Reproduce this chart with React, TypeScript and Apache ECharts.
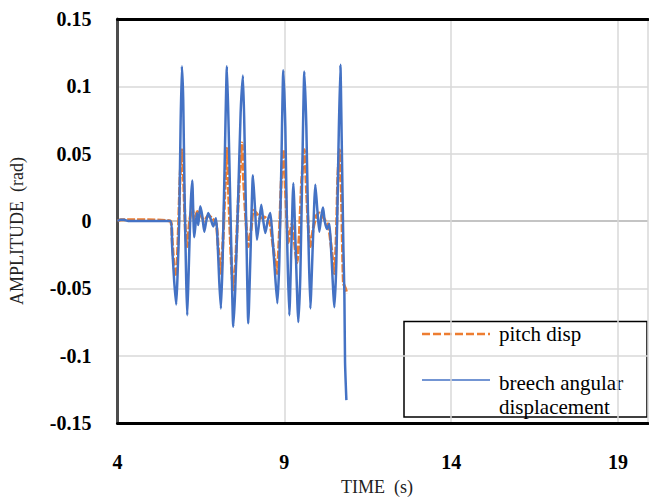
import React, { useEffect, useRef } from "react";
import * as echarts from "echarts";

const blueTime = [4.00, 4.08, 4.20, 4.32, 5.58, 5.64, 5.70, 5.76, 5.80, 5.85, 5.89, 5.93, 5.97, 6.01, 6.06, 6.09, 6.13, 6.19, 6.24, 6.30, 6.38, 6.42, 6.48, 6.54, 6.60, 6.66, 6.72, 6.80, 6.87, 6.95, 6.99, 7.05, 7.10, 7.15, 7.21, 7.28, 7.33, 7.41, 7.47, 7.53, 7.62, 7.69, 7.76, 7.81, 7.87, 7.92, 7.98, 8.06, 8.12, 8.18, 8.25, 8.31, 8.37, 8.43, 8.50, 8.58, 8.64, 8.71, 8.79, 8.85, 8.91, 8.97, 9.03, 9.09, 9.15, 9.21, 9.27, 9.34, 9.42, 9.48, 9.54, 9.60, 9.66, 9.72, 9.78, 9.85, 9.93, 9.99, 10.05, 10.11, 10.16, 10.21, 10.28, 10.35, 10.41, 10.50, 10.56, 10.62, 10.68, 10.72, 10.77, 10.80, 10.82, 10.86];
const blueValue = [0, 0.001, 0.001, 0, 0, -0.02, -0.045, -0.062, -0.04, 0.0, 0.07, 0.115, 0.09, 0.02, -0.045, -0.07, -0.04, 0.01, 0.030, -0.012, 0.006, -0.003, 0.011, 0.004, -0.008, 0.0, 0.006, 0.001, -0.004, 0.002, -0.01, -0.045, -0.065, -0.03, 0.04, 0.115, 0.07, -0.02, -0.0785, -0.05, 0.02, 0.08, 0.108, 0.06, -0.02, -0.076, -0.03, 0.034, 0.01, -0.014, 0.0, 0.012, 0.0, -0.009, 0.0, 0.006, -0.01, -0.035, -0.061, -0.03, 0.04, 0.112, 0.07, -0.02, -0.07, -0.02, 0.028, -0.02, -0.075, -0.04, 0.04, 0.111, 0.07, -0.01, -0.065, -0.02, 0.027, 0.008, -0.008, 0.004, 0.010, 0.0, -0.006, -0.002, -0.025, -0.064, -0.03, 0.05, 0.116, 0.06, -0.02, -0.054, -0.105, -0.133];

const orangeTime = [4.00, 4.11, 5.58, 5.64, 5.70, 5.76, 5.82, 5.88, 5.93, 5.98, 6.04, 6.09, 6.16, 6.24, 6.31, 6.39, 6.48, 6.60, 6.72, 6.84, 6.96, 7.02, 7.10, 7.17, 7.23, 7.28, 7.33, 7.41, 7.47, 7.54, 7.63, 7.73, 7.78, 7.86, 7.92, 8.01, 8.07, 8.16, 8.28, 8.40, 8.52, 8.58, 8.67, 8.78, 8.85, 8.91, 8.97, 9.04, 9.12, 9.23, 9.30, 9.38, 9.45, 9.52, 9.60, 9.67, 9.73, 9.78, 9.87, 9.96, 10.05, 10.14, 10.23, 10.32, 10.41, 10.50, 10.56, 10.60, 10.65, 10.71, 10.77, 10.83, 10.88];
const orangeValue = [0, 0.001, 0, -0.015, -0.035, -0.041, -0.01, 0.035, 0.053, 0.03, -0.01, -0.019, 0.0, 0.01, 0.0, 0.007, 0.005, 0.0, 0.004, 0.002, -0.002, -0.02, -0.039, -0.01, 0.03, 0.054, 0.02, -0.03, -0.051, -0.03, 0.02, 0.058, 0.03, -0.005, -0.019, -0.005, 0.008, 0.006, 0.002, 0.003, 0.0, -0.003, -0.02, -0.039, -0.01, 0.03, 0.053, 0.02, -0.016, -0.002, -0.015, -0.031, -0.01, 0.03, 0.053, 0.02, -0.01, -0.019, -0.005, 0.004, 0.006, 0.004, 0.0, -0.003, -0.02, -0.039, -0.01, 0.03, 0.053, 0.02, -0.046, -0.05, -0.054];

const seriesNames = ["pitch disp", "breech angular\ndisplacement"];
const xAxisTitle = "TIME  (s)";
const yAxisTitle = "AMPLITUDE  (rad)";

const SERIF = '"Liberation Serif", "Times New Roman", serif';

export default function App() {
  const ref = useRef<HTMLDivElement>(null);
  useEffect(() => {
    if (!ref.current) return;
    const chart = echarts.init(ref.current, null, { renderer: "svg" });
    const pairs = (t: number[], v: number[]) => t.map((x, i) => [x, v[i]]);
    const grey = "#d9d9d9";
    chart.setOption({
      animation: false,
      backgroundColor: "#ffffff",
      grid: { left: 117.5, top: 19, width: 530.5, height: 404 },
      xAxis: [
        {
          type: "value",
          min: 4,
          max: 19.9,
          interval: 5,
          position: "bottom",
          axisLine: { show: true, onZero: false, lineStyle: { color: "#000", width: 3 } },
          axisTick: { show: false },
          axisLabel: {
            margin: 29,
            showMaxLabel: false,
            color: "#000",
            fontFamily: SERIF,
            fontWeight: "bold",
            fontSize: 20,
          },
          splitLine: { show: true, lineStyle: { color: grey, width: 1.5 } },
        },
        {
          type: "value",
          min: 4,
          max: 19.9,
          interval: 5,
          position: "top",
          axisLine: { show: true, onZero: false, lineStyle: { color: "#000", width: 3 } },
          axisTick: { show: false },
          axisLabel: { show: false },
          splitLine: { show: false },
        },
      ],
      yAxis: {
        type: "value",
        min: -0.15,
        max: 0.15,
        interval: 0.05,
        axisLine: { show: true, lineStyle: { color: "#4d4d4d", width: 3 } },
        axisTick: { show: false },
        axisLabel: {
          margin: 26,
          color: "#000",
          fontFamily: SERIF,
          fontWeight: "bold",
          fontSize: 20,
          formatter: (v: number) => String(Number(v.toFixed(2))),
        },
        splitLine: {
          show: true,
          lineStyle: {
            color: [grey, grey, grey, "#b0b0b0", grey, grey, grey],
            width: 1.5,
          },
        },
      },
      series: [
        {
          name: seriesNames[0],
          type: "line",
          data: pairs(orangeTime, orangeValue),
          symbol: "none",
          smooth: 0.2,
          lineStyle: { color: "#ED7D31", width: 3, type: [8, 2] },
          z: 2,
        },
        {
          name: seriesNames[1],
          type: "line",
          data: pairs(blueTime, blueValue),
          symbol: "none",
          smooth: 0.2,
          lineStyle: { color: "#4472C4", width: 2.5 },
          z: 3,
        },
      ],
      graphic: [
        {
          type: "text",
          x: 377,
          y: 487,
          style: {
            text: xAxisTitle,
            align: "center",
            verticalAlign: "middle",
            fontFamily: SERIF,
            fontSize: 18,
            fill: "#222",
          },
        },
        {
          type: "text",
          x: 17,
          y: 231,
          rotation: Math.PI / 2,
          style: {
            text: yAxisTitle,
            align: "center",
            verticalAlign: "middle",
            fontFamily: SERIF,
            fontSize: 18,
            fill: "#222",
          },
        },
        {
          type: "group",
          z: 100,
          children: [
            {
              type: "rect",
              shape: { x: 404, y: 321.5, width: 243, height: 95.5 },
              style: { fill: "#fff", stroke: "#000", lineWidth: 1.5 },
            },
            {
              type: "line",
              shape: { x1: 422, y1: 334, x2: 490, y2: 334 },
              style: { stroke: "#ED7D31", lineWidth: 2.5, lineDash: [8, 3] },
            },
            {
              type: "text",
              x: 499,
              y: 334,
              style: {
                text: seriesNames[0],
                verticalAlign: "middle",
                fontFamily: SERIF,
                fontSize: 21,
                fill: "#000",
              },
            },
            {
              type: "line",
              shape: { x1: 422, y1: 380, x2: 490, y2: 380 },
              style: { stroke: "#4472C4", lineWidth: 1.5 },
            },
            {
              type: "text",
              x: 499,
              y: 371,
              style: {
                text: seriesNames[1],
                verticalAlign: "top",
                lineHeight: 24,
                fontFamily: SERIF,
                fontSize: 21,
                fill: "#000",
              },
            },
          ],
        },
      ],
    });
    return () => chart.dispose();
  }, []);
  return (
    <div
      ref={ref}
      style={{ position: "fixed", left: 0, top: 0, width: 649, height: 497 }}
    />
  );
}
